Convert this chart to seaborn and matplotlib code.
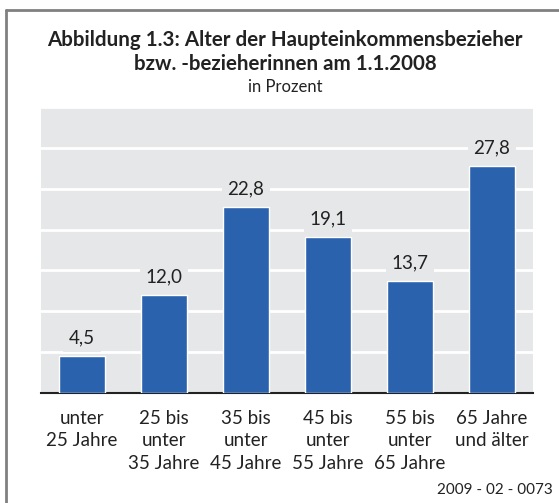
import matplotlib
matplotlib.use('Agg')
import matplotlib.pyplot as plt
from matplotlib.lines import Line2D
import seaborn as sns
import pandas as pd

# Daten
kategorien = ['unter\n25 Jahre', '25 bis\nunter\n35 Jahre', '35 bis\nunter\n45 Jahre',
              '45 bis\nunter\n55 Jahre', '55 bis\nunter\n65 Jahre', '65 Jahre\nund älter']
anteile = [4.5, 12.0, 22.8, 19.1, 13.7, 27.8]
y_ticks = [0, 5, 10, 15, 20, 25, 30, 35]

titel = 'Abbildung 1.3: Alter der Haupteinkommensbezieher\nbzw. -bezieherinnen am 1.1.2008'
untertitel = 'in Prozent'
quelle = '2009 - 02 - 0073'

bg_grau = '#e6e7e8'
blau = '#2b62ad'

sns.set_style('white')
plt.rcParams['font.family'] = ['Lato', 'DejaVu Sans']

df = pd.DataFrame({'kategorie': kategorien, 'anteil': anteile})

W, H = 559, 503
fig = plt.figure(figsize=(W / 100, H / 100), dpi=100)
ax = fig.add_axes([41 / W, (H - 393) / H, 492 / W, 286 / H])
ax.set_facecolor(bg_grau)

sns.barplot(data=df, x='kategorie', y='anteil', color=blau, width=0.55,
            saturation=1, ax=ax, zorder=3)

# Gitterlinien
ax.set_ylim(0, 35)
ax.set_yticks(y_ticks)
ax.yaxis.grid(True, color='white', linewidth=2, zorder=1)
ax.set_axisbelow(True)
ax.tick_params(axis='y', left=False, labelleft=False)

# x-Achse
ax.set_xlim(-0.5, len(kategorien) - 0.5)
ax.set_xticks([i - 0.5 for i in range(len(kategorien) + 1)], minor=True)
ax.tick_params(axis='x', which='minor', length=7, width=1.3, color='#222222', direction='out')
ax.tick_params(axis='x', which='major', length=0, pad=12, labelsize=13.5, labelcolor='#222222')
for lbl in ax.get_xticklabels():
    lbl.set_linespacing(1.4)
    lbl.set_verticalalignment('top')
ax.set_xlabel('')
ax.set_ylabel('')

for s in ['left', 'top', 'right']:
    ax.spines[s].set_visible(False)
ax.spines['bottom'].set_color('#222222')
ax.spines['bottom'].set_linewidth(1.5)

# Werte über den Balken
for p in ax.patches:
    wert = p.get_height()
    ax.annotate(f'{wert:.1f}'.replace('.', ','),
                (p.get_x() + p.get_width() / 2., wert),
                ha='center', va='center', xytext=(0, 13),
                textcoords='offset points', fontsize=13.5, color='#222222',
                bbox=dict(boxstyle='square,pad=0.3', facecolor=bg_grau, edgecolor='none'),
                zorder=4)

# Titel
fig.text(285 / W, 1 - 52 / H, titel, ha='center', va='center', fontsize=14.8,
         fontweight='bold', linespacing=1.2, color='#222222')
fig.text(285 / W, 1 - 87 / H, untertitel, ha='center', va='center', fontsize=12,
         color='#222222')
fig.text(553 / W, 1 - 490 / H, quelle, ha='right', va='center', fontsize=11,
         color='#222222')

# Rahmen
fig.add_artist(Line2D([6 / W, 1], [1 - 9.5 / H, 1 - 9.5 / H], color='#808080', linewidth=2))
fig.add_artist(Line2D([6 / W, 6 / W], [0, 1 - 9.5 / H], color='#808080', linewidth=2))

fig.savefig('out.png', dpi=100)
